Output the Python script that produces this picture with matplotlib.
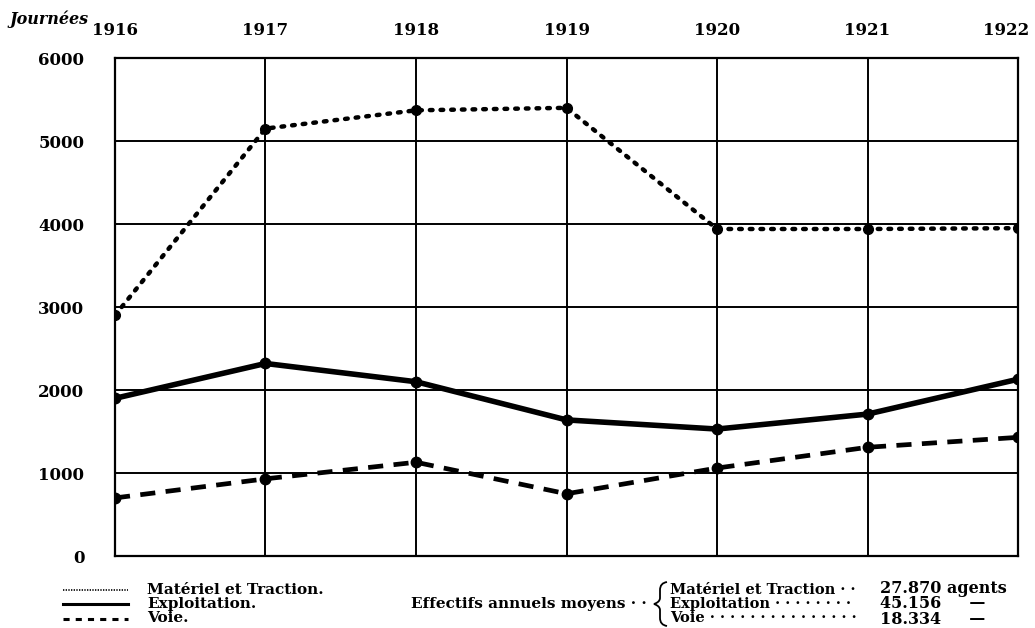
import matplotlib
matplotlib.use("Agg")
import matplotlib.pyplot as plt
from matplotlib.lines import Line2D
from matplotlib.path import Path
from matplotlib.patches import PathPatch
import matplotlib.transforms as mtransforms

years = [1916, 1917, 1918, 1919, 1920, 1921, 1922]
materiel = [2900, 5150, 5370, 5400, 3940, 3940, 3950]
exploitation = [1900, 2320, 2100, 1640, 1530, 1710, 2130]
voie = [700, 930, 1130, 750, 1060, 1310, 1430]
yticks = [0, 1000, 2000, 3000, 4000, 5000, 6000]

series_labels = ["Matériel et Traction.", "Exploitation.", "Voie."]
effectifs_names = ["Matériel et Traction", "Exploitation", "Voie"]
effectifs_values = ["27.870", "45.156", "18.334"]
effectifs_units = ["agents", "—", "—"]

FONT = "DejaVu Serif"
plt.rcParams['font.family'] = [FONT]
plt.rcParams['font.weight'] = 'bold'

W, H = 1035, 628
fig = plt.figure(figsize=(W / 100, H / 100), dpi=100)
ax = fig.add_axes([0.1111, 0.1146, 0.8725, 0.793])

ax.plot(years, materiel, color='black', lw=3.2, ls=(0, (0.6, 1.8)),
        dash_capstyle='round', marker='o', ms=7)
ax.plot(years, exploitation, color='black', lw=4.0, ls='-', marker='o', ms=7.5)
ax.plot(years, voie, color='black', lw=3.4, ls=(0, (3.2, 2.2)), marker='o', ms=7.5)

ax.set_xlim(1916, 1922)
ax.set_ylim(0, 6000)
ax.set_xticks(years)
ax.set_yticks(yticks)
ax.grid(True, color='black', lw=1.4)
ax.set_axisbelow(True)
for s in ax.spines.values():
    s.set_linewidth(1.6)
ax.tick_params(axis='x', top=False, bottom=False, labeltop=True, labelbottom=False,
               length=0, pad=14, labelsize=12)
ax.tick_params(axis='y', length=0, pad=22, labelsize=12)
for lab in ax.get_xticklabels() + ax.get_yticklabels():
    lab.set_fontweight('bold')
last = ax.get_xticklabels()[-1]
last.set_transform(last.get_transform() + mtransforms.ScaledTranslation(-12 / 100, 0, fig.dpi_scale_trans))

fig.text(0.009, 1 - 19 / H, "Journées", fontsize=11.5, style='italic', fontweight='bold',
         ha='left', va='center')

renderer = fig.canvas.get_renderer()


def text_width(s, size):
    t = fig.text(0, 0, s, fontsize=size, fontweight='bold')
    w = t.get_window_extent(renderer).width
    t.remove()
    return w


def fx(px):
    return px / W


def fy(py):
    return 1 - py / H


PITCH = 14.5  # px between baselines of the legend rows


def block(x, y, lines, size, ha='left'):
    """Multi-line text block whose line pitch is tuned to PITCH pixels."""
    t = fig.text(fx(x), fy(y), "\n".join(lines), fontsize=size, fontweight='bold',
                 ha=ha, va='center', linespacing=1.0)
    one = fig.text(0, 0, lines[0], fontsize=size, fontweight='bold', linespacing=1.0)
    h1 = one.get_window_extent(renderer).height
    one.remove()
    h3 = t.get_window_extent(renderer).height
    pitch1 = (h3 - h1) / (len(lines) - 1)
    t.set_linespacing(PITCH / pitch1)
    return t


# Left legend: sample lines + one multi-line label block
leg_styles = [dict(lw=1.2, ls=(0, (0.8, 0.8))), dict(lw=2.2, ls='-'), dict(lw=2.2, ls=(0, (2, 2)))]
ys = [589.5, 604, 618.5]
for st, y in zip(leg_styles, ys):
    fig.add_artist(Line2D([fx(63), fx(128)], [fy(y), fy(y)], color='black', **st))
block(147, 604, series_labels, 11)

# Right block
fig.text(fx(647), fy(604), "Effectifs annuels moyens · ·", fontsize=11,
         fontweight='bold', ha='right', va='center')

# brace drawn as a path
bx0, bxm, bx1 = 654, 660, 667
verts = [(bx1, 582), (bxm, 583), (bxm, 590), (bxm, 598), (bxm, 602), (bx0, 604),
         (bxm, 606), (bxm, 610), (bxm, 618), (bxm, 625), (bx1, 626)]
codes = [Path.MOVETO, Path.CURVE3, Path.CURVE3, Path.LINETO, Path.CURVE3, Path.CURVE3,
         Path.CURVE3, Path.CURVE3, Path.LINETO, Path.CURVE3, Path.CURVE3]
brace = Path([(fx(x), fy(y)) for x, y in verts], codes)
fig.add_artist(PathPatch(brace, transform=fig.transFigure, facecolor='none',
                         edgecolor='black', lw=1.3))

NAME_SIZE = 10.5
target = 858 - 670
lines = []
for name in effectifs_names:
    s = name
    while text_width(s + " ·", NAME_SIZE) <= target:
        s += " ·"
    lines.append(s)
block(670, 604, lines, NAME_SIZE)

VAL_SIZE = 11.5
val_lines = []
for v, u in zip(effectifs_values, effectifs_units):
    if u == "agents":
        val_lines.append(v + " " + u)
    else:
        s = v
        while text_width(s + " ", VAL_SIZE) < 970 - 880:
            s += " "
        val_lines.append(s + u)
block(880, 604, val_lines, VAL_SIZE)

fig.savefig("out.png", dpi=100, facecolor='white')
